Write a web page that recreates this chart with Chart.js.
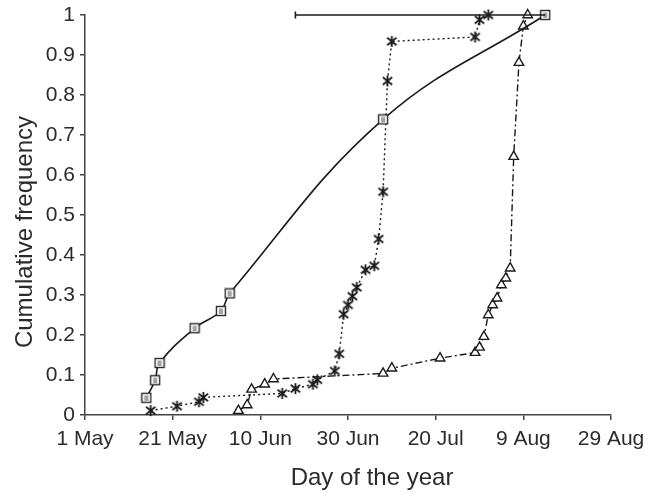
<!DOCTYPE html>
<html>
<head>
<meta charset="utf-8">
<script src="https://cdn.jsdelivr.net/npm/chart.js@4.4.1/dist/chart.umd.min.js"></script>
<style>
  html, body { margin: 0; padding: 0; background: #fff; }
  canvas { display: block; }
</style>
</head>
<body>
<canvas id="chart" width="648" height="493"></canvas>
<script>
// day 0 = 1 May; one tick every 20 days
const tickLabels = ["1 May", "21 May", "10 Jun", "30 Jun", "20 Jul", "9 Aug", "29 Aug"];

// solid line, square markers
const squareDays = [14, 16, 17, 25, 31, 33, 68, 105];
const squareFreq = [0.043, 0.087, 0.13, 0.217, 0.26, 0.304, 0.739, 1];

// dotted line, asterisk markers
const starDays = [15, 21, 26, 27, 45, 48, 52, 53, 57, 58, 59, 60, 61, 62, 64, 66, 67, 68, 69, 70, 89, 90, 92];
const starFreq = [0.011, 0.022, 0.033, 0.044, 0.054, 0.066, 0.077, 0.088, 0.11, 0.153, 0.252, 0.275, 0.297, 0.319, 0.363, 0.373, 0.44, 0.558, 0.835, 0.934, 0.945, 0.988, 1];

// dash-dot line, triangle markers
const triDays = [35, 37, 38, 41, 43, 68, 70, 81, 89, 90, 91, 92, 93, 94, 95, 96, 97, 97.8, 99, 100, 101];
const triFreq = [0.011, 0.025, 0.064, 0.077, 0.09, 0.104, 0.117, 0.142, 0.156, 0.169, 0.196, 0.25, 0.275, 0.292, 0.325, 0.342, 0.367, 0.646, 0.881, 0.972, 1];

// horizontal bar along the top
const rangeDays = [48, 105];
const rangeFreq = [1, 1];

const xTitle = "Day of the year";
const yTitle = "Cumulative frequency";

const ink = "#1a1a1a";
const textColor = "#2b2b2b";
const fontFamily = "Liberation Sans, Arial, sans-serif";

function toPoints(xs, ys) {
  return xs.map((x, i) => ({ x: x, y: ys[i] }));
}

// small marker images
function squareMarker() {
  const c = document.createElement("canvas");
  c.width = 12; c.height = 12;
  const g = c.getContext("2d");
  g.fillStyle = "#fff";
  g.fillRect(1, 1, 10, 10);
  g.strokeStyle = "#2a2a2a";
  g.lineWidth = 1.4;
  g.strokeRect(1.5, 1.5, 9, 9);
  g.lineWidth = 1.1;
  g.strokeStyle = "#555";
  g.beginPath();
  g.moveTo(5, 3.5); g.lineTo(5, 9);
  g.moveTo(7, 3.5); g.lineTo(7, 9);
  g.stroke();
  return c;
}

function starMarker() {
  const c = document.createElement("canvas");
  c.width = 13; c.height = 13;
  const g = c.getContext("2d");
  g.strokeStyle = ink;
  g.lineWidth = 1.8;
  g.beginPath();
  g.moveTo(6.5, 1); g.lineTo(6.5, 12);
  g.moveTo(1.8, 2.8); g.lineTo(11.2, 10.2);
  g.moveTo(11.2, 2.8); g.lineTo(1.8, 10.2);
  g.stroke();
  return c;
}

// axis titles, placed under and beside the plot
const axisTitles = {
  id: "axisTitles",
  afterDraw(chart) {
    const g = chart.ctx;
    g.save();
    g.fillStyle = textColor;
    g.font = "24px " + fontFamily;
    g.textAlign = "center";
    g.textBaseline = "middle";
    g.fillText(xTitle, 372, 478);
    g.translate(25, 232);
    g.rotate(-Math.PI / 2);
    g.fillText(yTitle, 0, 0);
    g.restore();
  },
};

const ctx = document.getElementById("chart").getContext("2d");

new Chart(ctx, {
  type: "scatter",
  plugins: [axisTitles],
  data: {
    datasets: [
      {
        data: toPoints(rangeDays, rangeFreq),
        showLine: true,
        clip: false,
        borderColor: ink,
        borderWidth: 1.6,
        pointStyle: "line",
        rotation: 90,
        pointRadius: [3.5, 0],
        pointBorderColor: ink,
        pointBorderWidth: 1.6,
      },
      {
        data: toPoints(squareDays, squareFreq),
        showLine: true,
        clip: false,
        borderColor: ink,
        borderWidth: 1.6,
        tension: 0.4,
        pointStyle: squareMarker(),
      },
      {
        data: toPoints(starDays, starFreq),
        showLine: true,
        clip: false,
        borderColor: ink,
        borderWidth: 1.4,
        borderDash: [2, 3],
        pointStyle: starMarker(),
      },
      {
        data: toPoints(triDays, triFreq),
        showLine: true,
        clip: false,
        borderColor: ink,
        borderWidth: 1.4,
        borderDash: [7, 3, 2, 3],
        pointStyle: "triangle",
        pointRadius: 5.5,
        pointBackgroundColor: "#fff",
        pointBorderColor: ink,
        pointBorderWidth: 1.4,
      },
    ],
  },
  options: {
    responsive: false,
    animation: false,
    devicePixelRatio: 1,
    layout: { padding: { top: 15, right: 37, bottom: 0, left: 0 } },
    plugins: {
      legend: { display: false },
      tooltip: { enabled: false },
    },
    scales: {
      x: {
        type: "linear",
        min: 0,
        max: 120,
        afterFit: (scale) => {
          scale.height = 78;
          scale.paddingLeft = 0;
          scale.paddingRight = 0;
        },
        border: { color: "#444", width: 1.5 },
        grid: { drawOnChartArea: false, tickLength: 5, color: "#444", lineWidth: 1.5 },
        ticks: {
          stepSize: 20,
          padding: 7,
          color: textColor,
          font: { family: fontFamily, size: 21 },
          callback: (v) => tickLabels[v / 20],
        },
      },
      y: {
        min: 0,
        max: 1,
        afterFit: (scale) => {
          scale.width = 85;
          scale.paddingTop = 0;
          scale.paddingBottom = 0;
        },
        border: { color: "#444", width: 1.5 },
        grid: { drawOnChartArea: false, tickLength: 5, color: "#444", lineWidth: 1.5 },
        ticks: {
          stepSize: 0.1,
          padding: 5,
          color: textColor,
          font: { family: fontFamily, size: 21 },
          callback: (v) => (Math.round(v * 10) / 10).toString(),
        },
      },
    },
  },
});
</script>
</body>
</html>
